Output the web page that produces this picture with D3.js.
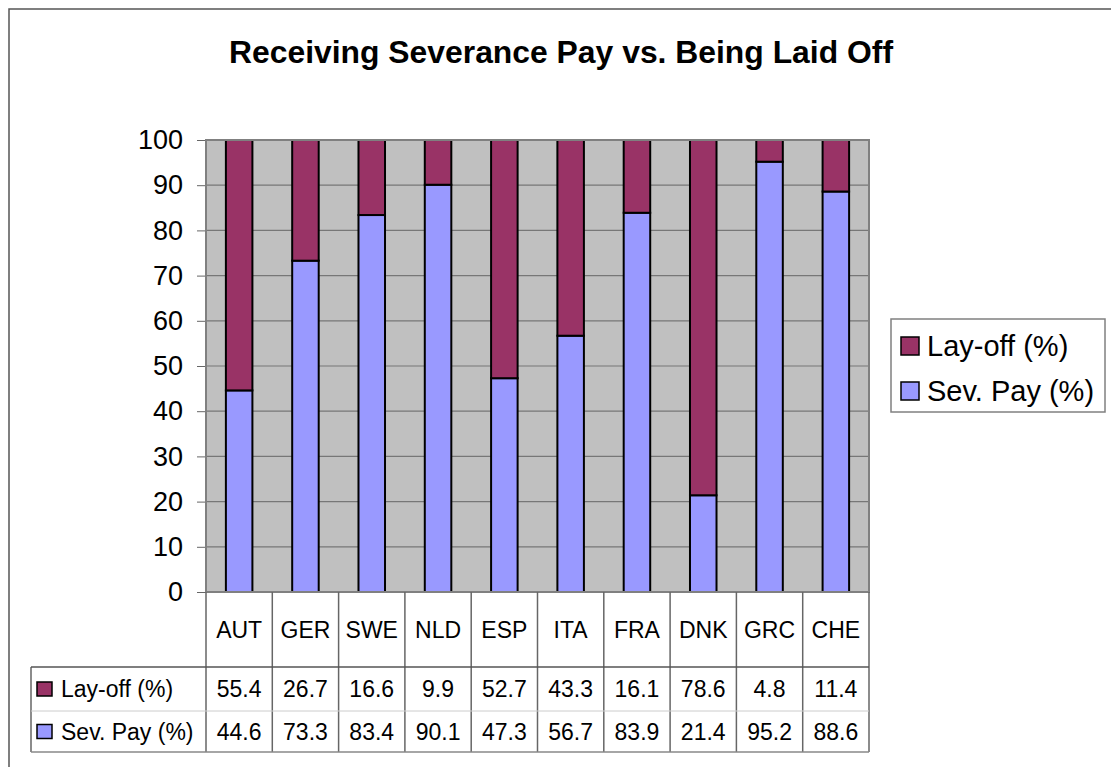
<!DOCTYPE html>
<html>
<head>
<meta charset="utf-8">
<script src="https://cdn.jsdelivr.net/npm/d3@7"></script>
<style>
  body { margin: 0; background: #fff; }
  svg { display: block; font-family: "Liberation Sans", Arial, sans-serif; }
</style>
</head>
<body>
<svg id="chart"></svg>
<script>
        // Data
        const countries = ["AUT", "GER", "SWE", "NLD", "ESP", "ITA", "FRA", "DNK", "GRC", "CHE"];
        const layOff = [55.4, 26.7, 16.6, 9.9, 52.7, 43.3, 16.1, 78.6, 4.8, 11.4];
        const sevPay = [44.6, 73.3, 83.4, 90.1, 47.3, 56.7, 83.9, 21.4, 95.2, 88.6];
        const yTicks = [0, 10, 20, 30, 40, 50, 60, 70, 80, 90, 100];
        const seriesNames = ["Lay-off (%)", "Sev. Pay (%)"];

        const width = 1111, height = 767;
        const plot = { left: 206, right: 869, top: 140, bottom: 592 };
        const rowY = [592, 667, 711, 752];   // table row edges
        const tableLeft = 31;

        const colLayOff = "#993366", colSev = "#9999FF";

        const svg = d3.select("#chart")
            .attr("width", width)
            .attr("height", height);

        // Outer chart border (clipped on right/bottom like the source)
        svg.append("rect")
            .attr("x", 9).attr("y", 9)
            .attr("width", width + 20).attr("height", height + 20)
            .attr("fill", "#fff")
            .attr("stroke", "#555").attr("stroke-width", 1.5);

        // Title
        svg.append("text")
            .attr("x", 561).attr("y", 63)
            .attr("text-anchor", "middle")
            .attr("font-size", 31).attr("font-weight", "bold")
            .attr("textLength", 664).attr("lengthAdjust", "spacingAndGlyphs")
            .text("Receiving Severance Pay vs. Being Laid Off");

        // Scales
        const x = d3.scaleBand()
            .domain(countries)
            .range([plot.left, plot.right]);

        const y = d3.scaleLinear()
            .domain([0, 100])
            .range([plot.bottom, plot.top]);

        const barW = x.bandwidth() * 0.4;

        // Plot background
        svg.append("rect")
            .attr("x", plot.left).attr("y", plot.top)
            .attr("width", plot.right - plot.left).attr("height", plot.bottom - plot.top)
            .attr("fill", "#C0C0C0");

        // Gridlines
        svg.append("g").selectAll("line")
            .data(yTicks.slice(1, -1))
            .join("line")
            .attr("x1", plot.left).attr("x2", plot.right)
            .attr("y1", d => y(d)).attr("y2", d => y(d))
            .attr("stroke", "#777").attr("stroke-width", 1.2);

        // Y axis
        const yAxis = svg.append("g")
            .attr("transform", `translate(${plot.left},0)`)
            .call(d3.axisLeft(y).tickValues(yTicks).tickSize(9).tickPadding(14));
        yAxis.select(".domain").remove();
        yAxis.selectAll(".tick line").attr("stroke", "#666");
        yAxis.selectAll(".tick text")
            .attr("font-size", 27)
            .attr("fill", "#000")
            .attr("font-family", "Liberation Sans, Arial, sans-serif");

        // Stacked bars
        const rows = countries.map((c, i) => ({ country: c, sev: sevPay[i], layoff: layOff[i] }));
        const stack = d3.stack().keys(["sev", "layoff"]);
        const stacked = stack(rows);
        const colors = { sev: colSev, layoff: colLayOff };

        svg.append("g").selectAll("g")
            .data(stacked)
            .join("g")
            .attr("fill", d => colors[d.key])
            .selectAll("rect")
            .data(d => d)
            .join("rect")
            .attr("x", d => x(d.data.country) + (x.bandwidth() - barW) / 2)
            .attr("width", barW)
            .attr("y", d => y(d[1]))
            .attr("height", d => y(d[0]) - y(d[1]))
            .attr("stroke", "#000").attr("stroke-width", 2);

        // Plot border
        svg.append("rect")
            .attr("x", plot.left).attr("y", plot.top)
            .attr("width", plot.right - plot.left).attr("height", plot.bottom - plot.top)
            .attr("fill", "none")
            .attr("stroke", "#808080").attr("stroke-width", 2);

        // Data table
        const table = svg.append("g");

        // column separators
        const colEdges = countries.map(c => x(c)).concat([plot.right]);
        table.selectAll("line.col")
            .data(colEdges)
            .join("line")
            .attr("class", "col")
            .attr("x1", d => d).attr("x2", d => d)
            .attr("y1", rowY[0]).attr("y2", rowY[3])
            .attr("stroke", "#666").attr("stroke-width", 1.5);

        // label column left edge
        table.append("line")
            .attr("x1", tableLeft).attr("x2", tableLeft)
            .attr("y1", rowY[1]).attr("y2", rowY[3])
            .attr("stroke", "#666").attr("stroke-width", 1.5);

        // horizontal rules
        table.append("line")
            .attr("x1", tableLeft).attr("x2", plot.right)
            .attr("y1", rowY[1]).attr("y2", rowY[1])
            .attr("stroke", "#555").attr("stroke-width", 1.5);
        table.append("line")
            .attr("x1", tableLeft).attr("x2", plot.right)
            .attr("y1", rowY[2]).attr("y2", rowY[2])
            .attr("stroke", "#ccc").attr("stroke-width", 1);
        table.append("line")
            .attr("x1", tableLeft).attr("x2", plot.right)
            .attr("y1", rowY[3]).attr("y2", rowY[3])
            .attr("stroke", "#888").attr("stroke-width", 1.5);

        // category labels
        table.selectAll("text.cat")
            .data(countries)
            .join("text")
            .attr("class", "cat")
            .attr("x", d => x(d) + x.bandwidth() / 2)
            .attr("y", (rowY[0] + rowY[1]) / 2)
            .attr("dy", "0.36em")
            .attr("text-anchor", "middle")
            .attr("font-size", 23)
            .text(d => d);

        // value rows
        const tableRows = [
            { name: seriesNames[0], color: colLayOff, values: layOff },
            { name: seriesNames[1], color: colSev, values: sevPay }
        ];

        tableRows.forEach((r, ri) => {
            const cy = (rowY[ri + 1] + rowY[ri + 2]) / 2;
            table.append("rect")
                .attr("x", 37).attr("y", cy - 7)
                .attr("width", 15).attr("height", 14)
                .attr("fill", r.color)
                .attr("stroke", "#000").attr("stroke-width", 1.5);
            table.append("text")
                .attr("x", 61).attr("y", cy)
                .attr("dy", "0.36em")
                .attr("font-size", 23)
                .text(r.name);
            table.selectAll(null)
                .data(r.values)
                .join("text")
                .attr("x", (d, i) => x(countries[i]) + x.bandwidth() / 2)
                .attr("y", cy)
                .attr("dy", "0.36em")
                .attr("text-anchor", "middle")
                .attr("font-size", 23)
                .text(d => d.toFixed(1));
        });

        // Legend
        const legend = svg.append("g");
        legend.append("rect")
            .attr("x", 891).attr("y", 319)
            .attr("width", 214).attr("height", 93)
            .attr("fill", "#fff")
            .attr("stroke", "#808080").attr("stroke-width", 1.5);

        const legendItems = [
            { name: seriesNames[0], color: colLayOff },
            { name: seriesNames[1], color: colSev }
        ];
        legend.selectAll("g")
            .data(legendItems)
            .join("g")
            .attr("transform", (d, i) => `translate(900, ${346 + i * 45})`)
            .each(function (d) {
                const g = d3.select(this);
                g.append("rect")
                    .attr("x", 1).attr("y", -9)
                    .attr("width", 18).attr("height", 18)
                    .attr("fill", d.color)
                    .attr("stroke", "#000").attr("stroke-width", 1.5);
                g.append("text")
                    .attr("x", 27).attr("y", 0)
                    .attr("dy", "0.36em")
                    .attr("font-size", 29)
                    .text(d.name);
            });
</script>
</body>
</html>
